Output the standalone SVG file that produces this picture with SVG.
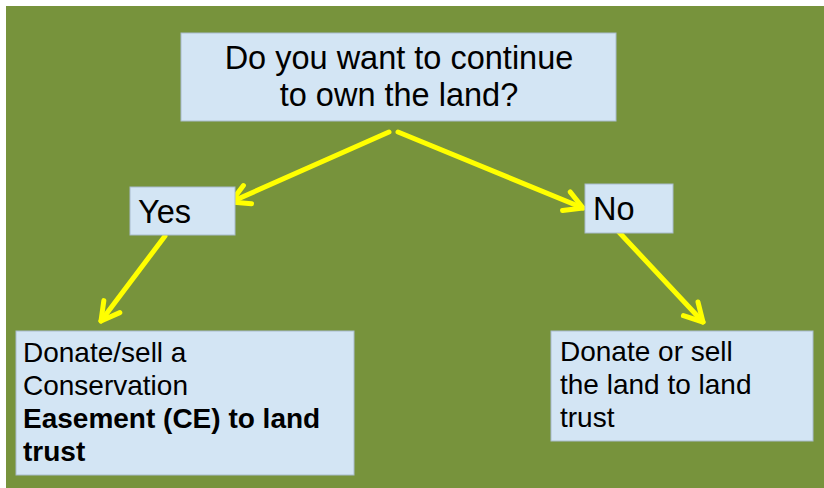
<svg xmlns="http://www.w3.org/2000/svg" width="824" height="488" viewBox="0 0 824 488">
<style>
.box{fill:#D3E5F4;stroke:#A9BCCD;stroke-width:1}
.t{font-family:"Liberation Sans",Arial,sans-serif;fill:#000}
.big{font-size:32.5px}
.mid{font-size:28px}
.b{font-weight:bold}
.conn{stroke:#FFFF00;stroke-width:5;stroke-linecap:round;fill:none}
</style>
<defs>
<marker id="ah" markerUnits="userSpaceOnUse" markerWidth="40" markerHeight="40" refX="0" refY="0" viewBox="-30 -20 40 40" orient="auto" overflow="visible">
<path d="M-18,-10 L0,0 L-18,10" fill="none" stroke="#FFFF00" stroke-width="5" stroke-linecap="round" stroke-linejoin="round"/>
</marker>
</defs>
<rect x="0" y="0" width="824" height="488" fill="#FFFFFF"/>
<rect x="6" y="6" width="818" height="482" fill="#77933C"/>
<g id="connectors">
<line class="conn" x1="389" y1="132" x2="231" y2="202" marker-end="url(#ah)"/>
<line class="conn" x1="398" y1="132" x2="583" y2="208" marker-end="url(#ah)"/>
<line class="conn" x1="165" y1="236" x2="101" y2="321" marker-end="url(#ah)"/>
<line class="conn" x1="617" y1="230" x2="703" y2="322" marker-end="url(#ah)"/>
</g>
<g id="question">
<rect class="box" x="181" y="33" width="435" height="88"/>
<text class="t big" x="399" y="69" text-anchor="middle">Do you want to continue</text>
<text class="t big" x="399" y="106" text-anchor="middle">to own the land?</text>
</g>
<g id="yes">
<rect class="box" x="130" y="187" width="105" height="48"/>
<text class="t big" x="138" y="223">Yes</text>
</g>
<g id="no">
<rect class="box" x="585" y="184" width="88" height="49"/>
<text class="t big" x="593" y="220">No</text>
</g>
<g id="easement">
<rect class="box" x="16" y="331" width="338" height="144"/>
<text class="t mid" x="23" y="362">Donate/sell a</text>
<text class="t mid" x="23" y="395">Conservation</text>
<text class="t mid b" x="23" y="428">Easement (CE) to land</text>
<text class="t mid b" x="23" y="461">trust</text>
</g>
<g id="sell">
<rect class="box" x="551" y="331" width="262" height="110"/>
<text class="t mid" x="560" y="361">Donate or sell</text>
<text class="t mid" x="560" y="394">the land to land</text>
<text class="t mid" x="560" y="427">trust</text>
</g>
</svg>
